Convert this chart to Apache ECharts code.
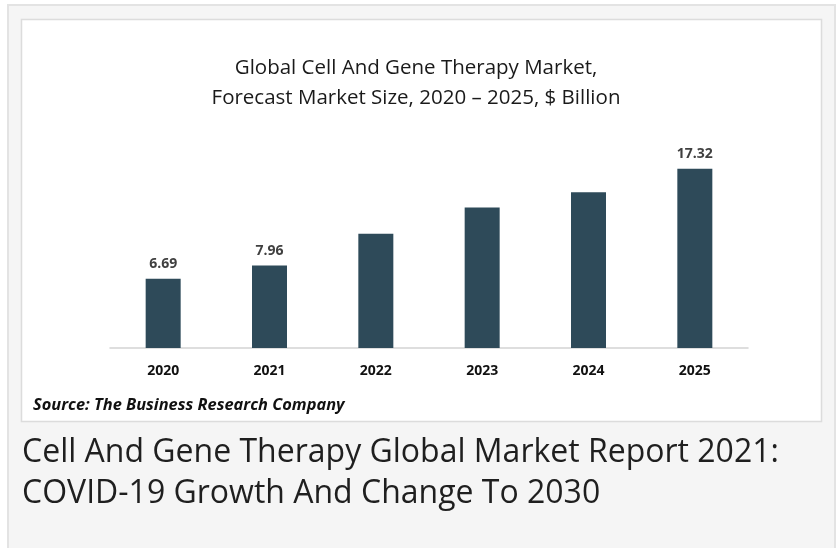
<!DOCTYPE html>
<html>
<head>
<meta charset="utf-8">
<script src="https://cdn.jsdelivr.net/npm/echarts@6/dist/echarts.min.js"></script>
<style>
  html, body { margin: 0; padding: 0; background: #ffffff; }
  #chart { width: 838px; height: 548px; }
</style>
</head>
<body>
<div id="chart"></div>
<script>
// values
const years = ['2020', '2021', '2022', '2023', '2024', '2025'];
const marketSize = [6.69, 7.96, 11.03, 13.58, 15.06, 17.32];
const labelledYears = ['2020', '2021', '2025'];

const titleLines = ['Global Cell And Gene Therapy Market,', 'Forecast Market Size, 2020 \u2013 2025, $ Billion'];
const sourceText = 'Source: The Business Research Company';
const captionLines = ['Cell And Gene Therapy Global Market Report 2021:', 'COVID-19 Growth And Change To 2030'];

const chart = echarts.init(document.getElementById('chart'));

const barData = marketSize.map((v, i) => ({
  value: v,
  label: { show: labelledYears.includes(years[i]) }
}));

const option = {
  animation: false,
  backgroundColor: '#ffffff',
  graphic: [
    // outer grey panel
    { type: 'rect', z: -10, shape: { x: 8, y: 5, width: 827, height: 560 },
      style: { fill: '#f5f5f5', stroke: '#e3e3e3', lineWidth: 2 } },
    // white chart box
    { type: 'rect', z: -9, shape: { x: 21.5, y: 19.5, width: 800, height: 402 },
      style: { fill: '#ffffff', stroke: '#dcdcdc', lineWidth: 1.5 } },
    { type: 'text', x: 416, y: 53,
      style: { text: titleLines.join('\n'), fill: '#1a1a1a', align: 'center',
        font: '20.5px "Open Sans"', lineHeight: 30 } },
    { type: 'text', left: 33, top: 397,
      style: { text: sourceText, fill: '#111111', font: 'italic bold 16.4px "Open Sans"' } },
    { type: 'text', left: 22, top: 432,
      style: { text: captionLines.join('\n'), fill: '#1f1f1f', font: '32px "Open Sans"', lineHeight: 41 } }
  ],
  grid: { left: 110, right: 90, top: 141, bottom: 200 },
  xAxis: {
    type: 'category',
    data: years,
    axisTick: { show: false },
    axisLine: { lineStyle: { color: '#d3d3d3', width: 1.5 } },
    axisLabel: { color: '#111111', fontFamily: 'Open Sans', fontWeight: 'bold', fontSize: 14, margin: 16 }
  },
  yAxis: {
    type: 'value',
    min: 0,
    max: 20,
    show: false
  },
  series: [{
    type: 'bar',
    data: barData,
    barWidth: 35,
    itemStyle: { color: '#2e4a59' },
    label: {
      position: 'top',
      distance: 8,
      color: '#404040',
      fontFamily: 'Open Sans',
      fontWeight: 'bold',
      fontSize: 14,
      formatter: p => p.value.toFixed(2)
    }
  }]
};

chart.setOption(option);
</script>
</body>
</html>
